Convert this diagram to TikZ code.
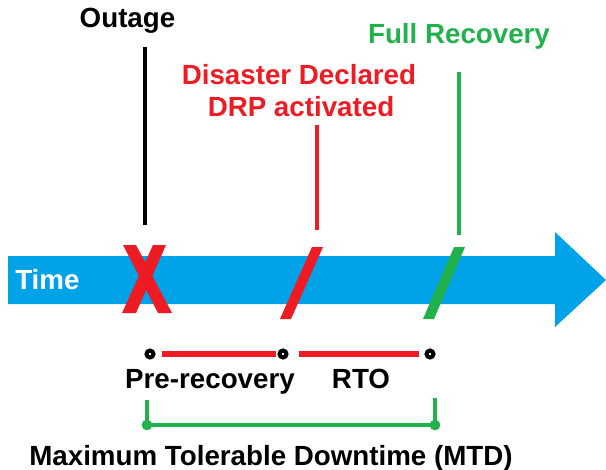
\documentclass[tikz,border=0pt]{standalone}
\usepackage{fontspec}
\setmainfont{Liberation Sans}
\definecolor{tblue}{HTML}{00A2E8}
\definecolor{tred}{HTML}{ED1C24}
\definecolor{tgreen}{HTML}{22B14C}
\begin{document}
\begin{tikzpicture}[x=0.75pt,y=-0.75pt,
  lbl/.style={font=\fontsize{20.8}{24}\selectfont\bfseries, inner sep=0, anchor=base},
  dotnode/.style={circle, draw=black, fill=white, line width=3pt, inner sep=0, minimum size=5.25pt},
  vline/.style={line width=3.4pt},
  seg/.style={tred, line width=4pt},
  bracket/.style={tgreen, line width=3.6pt, line join=round}]
\useasboundingbox (0,0) rectangle (606,470);
% time arrow
\fill[tblue] (8,256) -- (555,256) -- (555,232) -- (606,280) -- (555,327) -- (555,304) -- (8,304) -- cycle;
\node[lbl, anchor=base west, white] (time) at (15,289) {Time};
% top labels
\node[lbl] (outage) at (127.5,28) {Outage};
\node[lbl, tred] (dis1) at (299,85) {Disaster Declared};
\node[lbl, tred] (dis2) at (301,117) {DRP activated};
\node[lbl, tgreen] (full) at (459,44) {Full Recovery};
% event lines
\coordinate (o1) at (145,47); \coordinate (o2) at (145,225);
\coordinate (r1) at (317,125); \coordinate (r2) at (317,230);
\coordinate (f1) at (459,72); \coordinate (f2) at (459,235);
\draw[vline, black] (o1) -- (o2);
\draw[vline, tred] (r1) -- (r2);
\draw[vline, tgreen] (f1) -- (f2);
% X mark
\fill[tred] (123,245) -- (136,245) -- (172,313) -- (158,313) -- cycle;
\fill[tred] (153,245) -- (166,245) -- (136,313) -- (122,313) -- cycle;
% slashes
\fill[tred] (312,247) -- (323,247) -- (291,319) -- (280,319) -- cycle;
\fill[tgreen] (454,247) -- (465,247) -- (434,319) -- (423,319) -- cycle;
% dots and segments
\node[dotnode] (d1) at (150,354) {};
\node[dotnode] (d2) at (283,354) {};
\node[dotnode] (d3) at (430,354) {};
\draw[seg, shorten <=4.5pt, shorten >=1pt] (d1) -- (d2);
\draw[seg, shorten <=7.5pt, shorten >=4.5pt] (d2) -- (d3);
\node[lbl] (pre) at (210,388) {Pre-recovery};
\node[lbl] (rto) at (361,388) {RTO};
% MTD bracket
\coordinate (g1) at (147,400); \coordinate (g2) at (147,425);
\coordinate (g3) at (435,425); \coordinate (g4) at (435,398);
\draw[bracket] (g1) -- (g2) -- (g3) -- (g4);
\fill[tgreen] (g2) circle (4pt);
\fill[tgreen] (g3) circle (4pt);
\node[lbl] (mtd) at (271,465) {Maximum Tolerable Downtime (MTD)};
\end{tikzpicture}
\end{document}
